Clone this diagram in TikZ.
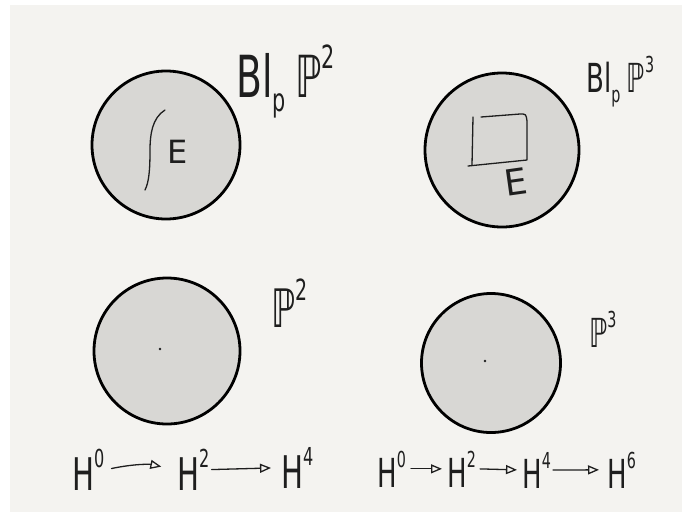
\documentclass[tikz,border=0pt]{standalone}
\usepackage{fontspec}
\setmainfont{DejaVu Sans}
\usetikzlibrary{arrows.meta}
\definecolor{paper}{RGB}{244,243,240}
\definecolor{disc}{RGB}{216,215,212}
\definecolor{ink}{RGB}{30,30,30}
\newcommand{\squeeze}[1]{\scalebox{0.65}[1]{#1}}
\newcommand{\up}[1]{\raisebox{0.5em}{\scalebox{0.55}{#1}}}
\newcommand{\down}[1]{\raisebox{-0.25em}{\scalebox{0.55}{#1}}}
\tikzset{
  ball/.style={circle, draw=black, line width=2.8pt, fill=disc, inner sep=0pt, outer sep=0pt, minimum size=#1},
  lbl/.style={font=\fontsize{#1}{#1}\selectfont, text=ink, anchor=base west, inner sep=0pt},
  coh/.style={font=\fontsize{#1}{#1}\selectfont, text=ink, anchor=base west, inner sep=2pt},
  pen/.style={ink, line width=1.3pt, line cap=round, line join=round}
}

\begin{document}
\begin{tikzpicture}[x=1pt, y=-1pt, >={Triangle[open, length=11pt, width=9pt, line width=1.3pt]}]
  \useasboundingbox (0,0) rectangle (682,512);
  \fill[white] (0,0) rectangle (682,512);
  \fill[paper] (10,5) rectangle (682,512);

  % blow-ups
  \node[ball=148] (blp2) at (166,145) {};
  \node[ball=154] (blp3) at (502,150) {};
  \node[lbl=58] (lblp2) at (236,97) {\squeeze{Bl\down{p}\hspace{0.25em}ℙ\up{2}}};
  \node[lbl=40] (lblp3) at (586,92) {\squeeze{Bl\down{p}\hspace{0.25em}ℙ\up{3}}};

  % exceptional divisors
  \draw[pen] (165,110) .. controls (152,118) and (150,135) .. (150,150)
    .. controls (150,170) and (149,182) .. (145,190);
  \node[lbl=32] (e2) at (167,163) {E};
  \draw[pen] (481,117) -- (520,114) .. controls (526,114) .. (527,121) -- (527,160) -- (468,166);
  \draw[pen] (473,117) -- (472,165);
  \node[lbl=36, rotate=8] (e3) at (506,197) {E};

  % projective spaces
  \node[ball=146] (p2) at (167,351) {};
  \node[ball=139] (p3) at (491,363) {};
  \fill[ink] (160,349) circle (1.3);
  \fill[ink] (485,361) circle (1.3);
  \node[lbl=53] (lp2) at (271,327) {\squeeze{ℙ\up{2}}};
  \node[lbl=40] (lp3) at (589,347) {\squeeze{ℙ\up{3}}};

  % cohomology
  \node[coh=45] (hl0) at (70,490) {\squeeze{H\up{0}}};
  \node[coh=45] (hl2) at (175,490) {\squeeze{H\up{2}}};
  \node[coh=45] (hl4) at (279,488) {\squeeze{H\up{4}}};
  \draw[pen, ->, shorten <=5pt, shorten >=14pt] (hl0.east) to[bend left=12] (hl2.west);
  \draw[pen, ->, shorten >=8pt] (hl2.east) -- (hl4.west);

  \node[coh=40] (hr0) at (375,487) {\squeeze{H\up{0}}};
  \node[coh=40] (hr2) at (445,487) {\squeeze{H\up{2}}};
  \node[coh=40] (hr4) at (520,488) {\squeeze{H\up{4}}};
  \node[coh=40] (hr6) at (605,488) {\squeeze{H\up{6}}};
  \draw[pen, ->, shorten <=3pt, shorten >=3pt] (hr0.east) -- (hr2.west);
  \draw[pen, ->, shorten <=2pt, shorten >=3pt] (hr2.east) -- (hr4.west);
  \draw[pen, ->, shorten >=6pt] (hr4.east) -- (hr6.west);
\end{tikzpicture}
\end{document}
